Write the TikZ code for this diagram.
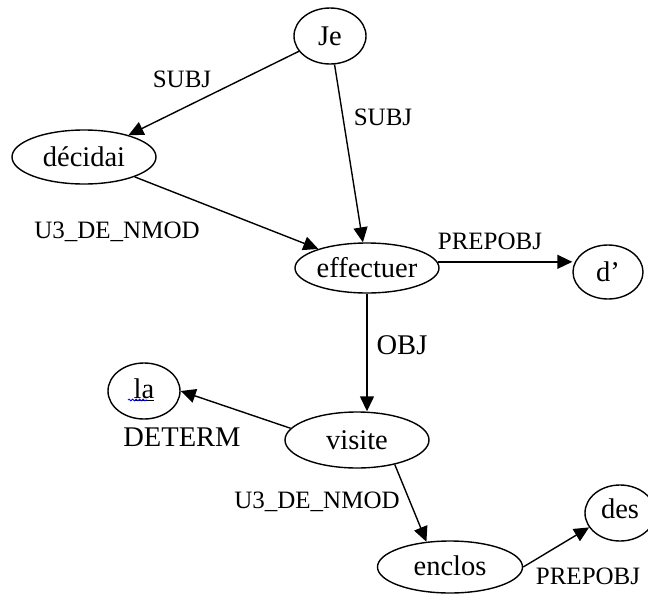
\documentclass[tikz,border=0pt]{standalone}
\usepackage{fontspec}
\setmainfont{Liberation Serif}
\usetikzlibrary{shapes.geometric,arrows.meta,decorations.pathmorphing}

\begin{document}
\begin{tikzpicture}[x=1pt,y=-1pt,>={Triangle[length=15pt,width=14pt]}]
\tikzstyle{every node} = [font=\fontsize{28.5}{31}\selectfont]
\tikzstyle{word} = [draw,ellipse,line width=1.4pt,inner sep=0pt]
\tikzstyle{rel} = [font=\fontsize{25}{28}\selectfont]
\tikzstyle{dep} = [line width=1.4pt,->]
\useasboundingbox (0,0) rectangle (648,595);
\path (330,36) node [word,minimum width=72pt,minimum height=56pt] (je) {Je}
		(84,157) node [word,minimum width=144pt,minimum height=54pt] (decidai) {décidai}
		(367,268) node [word,minimum width=144pt,minimum height=50pt] (effectuer) {effectuer}
		(608,272) node [word,minimum width=70pt,minimum height=54pt] (d) {d’}
		(144,391) node [word,minimum width=72pt,minimum height=56pt] (la) {\raisebox{4pt}{\underline{la}}\hspace{10pt}}
		(357,440) node [word,minimum width=144pt,minimum height=56pt] (visite) {visite}
		(450,567) node [word,minimum width=145pt,minimum height=52pt] (enclos) {\raisebox{3pt}{enclos}}
		(620,513) node [word,minimum width=70pt,minimum height=56pt] (des) {\raisebox{9pt}{des}};

	% relation labels
	\path (182,79) node [rel] (subj-decidai) {SUBJ}
		(383,117) node [rel] (subj-effectuer) {SUBJ}
		(117,232) node [rel] (nmod-effectuer) {U3\_DE\_NMOD}
		(490,241) node [rel] (prepobj-d) {PREPOBJ}
		(402,345) node (obj-visite) {OBJ}
		(182,437) node (determ-la) {DETERM}
		(317,502) node [rel] (nmod-enclos) {U3\_DE\_NMOD}
		(588,576) node [rel] (prepobj-des) {PREPOBJ};

	\draw[dep] (je) -- (decidai);
	\draw[dep] (je) -- (effectuer);
	\draw[dep] (decidai) -- (effectuer);
	\draw[dep] (effectuer.5) -- (effectuer.5 -| d.west);
	\draw[dep] (effectuer.south) -- (effectuer.south |- visite.north);
	\draw[dep] (visite.170) -- (la.east);
	\draw[dep] (visite.-33) -- (enclos.133);
	\draw[dep] (enclos.east) -- (des.205);
	\draw[blue,line width=0.8pt,decorate,decoration={snake,amplitude=0.9pt,segment length=3.5pt}] ([xshift=-16pt,yshift=-9pt]la.center) -- ([xshift=3pt,yshift=-9pt]la.center);
\end{tikzpicture}
\end{document}
